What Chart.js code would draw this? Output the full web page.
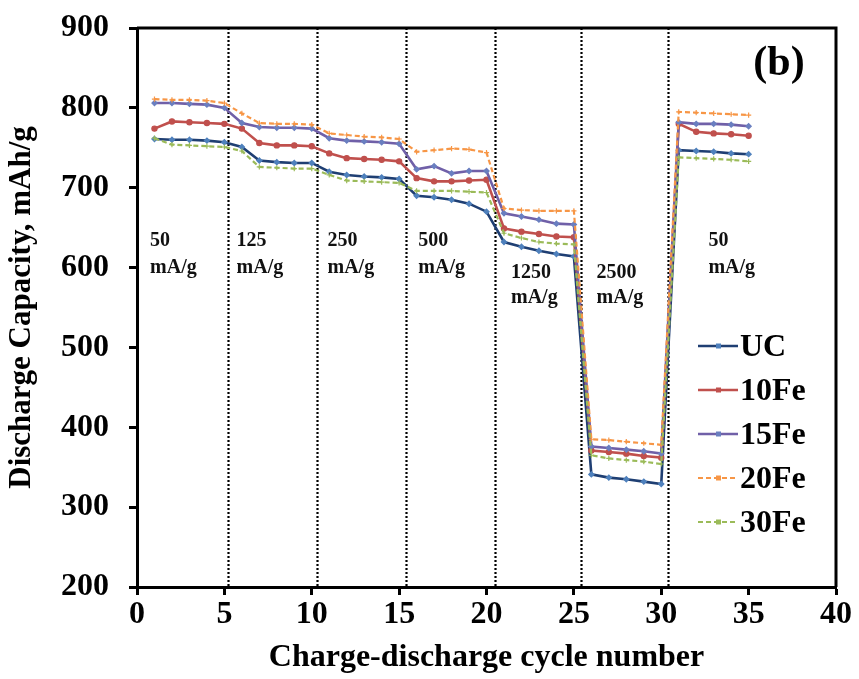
<!DOCTYPE html>
<html>
<head>
<meta charset="utf-8">
<script src="https://cdn.jsdelivr.net/npm/chart.js@4.4.1/dist/chart.umd.min.js"></script>
<style>
    html, body { margin: 0; padding: 0; background: #fff; }
    #wrap { width: 859px; height: 679px; }
</style>
</head>
<body>
<div id="wrap"><canvas id="rateChart" width="859" height="679"></canvas></div>
<script>
// cycle numbers (x axis)
const cycles = [1, 2, 3, 4, 5, 6, 7, 8, 9, 10, 11, 12, 13, 14, 15, 16, 17, 18, 19, 20,
    21, 22, 23, 24, 25, 26, 27, 28, 29, 30, 31, 32, 33, 34, 35];

// discharge capacity, mAh/g
const ucData   = [761, 760, 760, 759, 757, 751, 734, 732, 731, 731, 720, 716, 714, 713, 711, 690, 688, 685, 680, 670,
    632, 626, 621, 617, 614, 341, 337, 335, 332, 329, 747, 746, 745, 743, 742];
const fe10Data = [774, 783, 782, 781, 780, 774, 756, 753, 753, 752, 743, 737, 736, 735, 733, 712, 708, 708, 709, 710,
    649, 645, 642, 639, 638, 371, 369, 367, 364, 362, 780, 770, 768, 767, 765];
const fe15Data = [806, 806, 805, 804, 800, 781, 776, 775, 775, 774, 762, 759, 758, 757, 755, 723, 727, 718, 721, 721,
    668, 664, 660, 655, 654, 376, 374, 372, 370, 367, 782, 780, 780, 779, 777];
const fe20Data = [811, 810, 810, 809, 806, 793, 781, 780, 780, 779, 768, 766, 764, 763, 761, 745, 747, 749, 748, 744,
    674, 672, 671, 671, 671, 385, 384, 382, 380, 378, 795, 794, 793, 792, 791];
const fe30Data = [762, 754, 753, 752, 751, 746, 726, 725, 724, 724, 716, 709, 708, 707, 706, 696, 696, 696, 695, 694,
    643, 637, 632, 630, 629, 365, 361, 359, 357, 354, 738, 737, 736, 735, 733];

const seriesNames = ['UC', '10Fe', '15Fe', '20Fe', '30Fe'];

// current-rate step boundaries and labels
const rateBoundaries = [5.2, 10.3, 15.4, 20.5, 25.4, 30.4];
const rateLabels = [
    { x: 0.75, y: 634, y2: 600, text: '50' },
    { x: 5.7,  y: 634, y2: 600, text: '125' },
    { x: 10.9, y: 634, y2: 600, text: '250' },
    { x: 16.1, y: 634, y2: 600, text: '500' },
    { x: 21.4, y: 594, y2: 562, text: '1250' },
    { x: 26.3, y: 594, y2: 562, text: '2500' },
    { x: 32.7, y: 634, y2: 600, text: '50' }
];

const xTicks = { min: 0, max: 40, step: 5 };
const yTicks = { min: 200, max: 900, step: 100 };

const serif = '"Liberation Serif", "Times New Roman", serif';

function toPoints(values) {
    return cycles.map((c, i) => ({ x: c, y: values[i] }));
}

function makeSet(label, values, color, markColor, style, dashed, order) {
    return {
        label: label,
        data: toPoints(values),
        borderColor: color,
        backgroundColor: markColor,
        pointBorderColor: markColor,
        pointBackgroundColor: markColor,
        pointStyle: style,
        pointRadius: 2.6,
        pointBorderWidth: 1.2,
        borderWidth: dashed ? 2.2 : 2.6,
        borderDash: dashed ? [5, 3] : [],
        tension: 0,
        order: order
    };
}

// frame, dotted step lines, rate text, (b) and legend
const decorPlugin = {
    id: 'decor',
    beforeDatasetsDraw(chart) {
        const ctx = chart.ctx;
        const xs = chart.scales.x;
        const area = chart.chartArea;
        ctx.save();
        ctx.strokeStyle = '#000';
        ctx.lineWidth = 2.2;
        ctx.setLineDash([2, 2]);
        rateBoundaries.forEach(b => {
            const px = Math.round(xs.getPixelForValue(b)) + 0.5;
            ctx.beginPath();
            ctx.moveTo(px, area.top);
            ctx.lineTo(px, area.bottom);
            ctx.stroke();
        });
        ctx.setLineDash([]);

        ctx.fillStyle = '#111';
        ctx.font = 'bold 20px ' + serif;
        ctx.textAlign = 'left';
        ctx.textBaseline = 'middle';
        const ys = chart.scales.y;
        rateLabels.forEach(r => {
            const px = xs.getPixelForValue(r.x);
            ctx.fillText(r.text, px, ys.getPixelForValue(r.y));
            ctx.fillText('mA/g', px, ys.getPixelForValue(r.y2));
        });
        ctx.restore();
    },
    afterDraw(chart) {
        const ctx = chart.ctx;
        const area = chart.chartArea;
        ctx.save();
        // top + right frame
        ctx.strokeStyle = '#000';
        ctx.lineWidth = 3;
        ctx.beginPath();
        ctx.moveTo(area.left, area.top);
        ctx.lineTo(area.right, area.top);
        ctx.lineTo(area.right, area.bottom);
        ctx.stroke();

        ctx.fillStyle = '#000';
        ctx.font = 'bold 42px ' + serif;
        ctx.textAlign = 'center';
        ctx.textBaseline = 'middle';
        ctx.fillText('(b)', area.right - 57, area.top + 36);

        // legend
        const sets = chart.data.datasets;
        const lx = area.right - 138;
        let ly = area.top + 318;
        ctx.font = 'bold 32px ' + serif;
        ctx.textAlign = 'left';
        sets.forEach(ds => {
            ctx.strokeStyle = ds.borderColor;
            ctx.lineWidth = ds.borderWidth;
            ctx.setLineDash(ds.borderDash);
            ctx.beginPath();
            ctx.moveTo(lx, ly);
            ctx.lineTo(lx + 40, ly);
            ctx.stroke();
            ctx.setLineDash([]);
            ctx.fillStyle = ds.pointBackgroundColor;
            ctx.fillRect(lx + 18, ly - 2.5, 5, 5);
            ctx.fillStyle = '#000';
            ctx.fillText(ds.label, lx + 42, ly + 2);
            ly += 44;
        });
        ctx.restore();
    }
};

const ctx = document.getElementById('rateChart').getContext('2d');
const rateChart = new Chart(ctx, {
    type: 'line',
    data: {
        datasets: [
            makeSet(seriesNames[0], ucData,   '#1F3F73', '#4F81BD', 'rectRot', false, 5),
            makeSet(seriesNames[1], fe10Data, '#C0504D', '#C0504D', 'circle',  false, 4),
            makeSet(seriesNames[2], fe15Data, '#7060A8', '#6A7FC0', 'rectRot', false, 3),
            makeSet(seriesNames[3], fe20Data, '#F79646', '#F79646', 'cross',   true, 2),
            makeSet(seriesNames[4], fe30Data, '#9BBB59', '#9BBB59', 'cross',   true, 1)
        ]
    },
    options: {
        responsive: false,
        animation: false,
        layout: { padding: { top: 28, right: 23, left: 0, bottom: 0 } },
        plugins: {
            legend: { display: false },
            tooltip: { enabled: false }
        },
        scales: {
            x: {
                type: 'linear',
                min: xTicks.min,
                max: xTicks.max,
                afterFit(scale) { scale.height = 92; },
                border: { display: true, color: '#000', width: 3 },
                grid: { drawOnChartArea: false, drawTicks: true, tickLength: 8, tickWidth: 3, tickColor: '#000' },
                ticks: {
                    stepSize: xTicks.step,
                    padding: 1,
                    color: '#000',
                    font: { family: serif, size: 32, weight: 'bold' }
                },
                title: {
                    display: true,
                    text: 'Charge-discharge cycle number',
                    color: '#000',
                    padding: { top: 0, bottom: 2 },
                    font: { family: serif, size: 32, weight: 'bold' }
                }
            },
            y: {
                min: yTicks.min,
                max: yTicks.max,
                afterFit(scale) {
                    scale.width = 137;
                    scale.paddingTop = 0;
                    scale.paddingBottom = 0;
                },
                border: { display: true, color: '#000', width: 3 },
                grid: { drawOnChartArea: false, drawTicks: true, tickLength: 8, tickWidth: 3, tickColor: '#000' },
                ticks: {
                    stepSize: yTicks.step,
                    padding: 20,
                    color: '#000',
                    font: { family: serif, size: 32, weight: 'bold' }
                },
                title: {
                    display: true,
                    text: 'Discharge Capacity, mAh/g',
                    color: '#000',
                    padding: { top: 3, bottom: 0 },
                    font: { family: serif, size: 31, weight: 'bold' }
                }
            }
        }
    },
    plugins: [decorPlugin]
});
</script>
</body>
</html>
